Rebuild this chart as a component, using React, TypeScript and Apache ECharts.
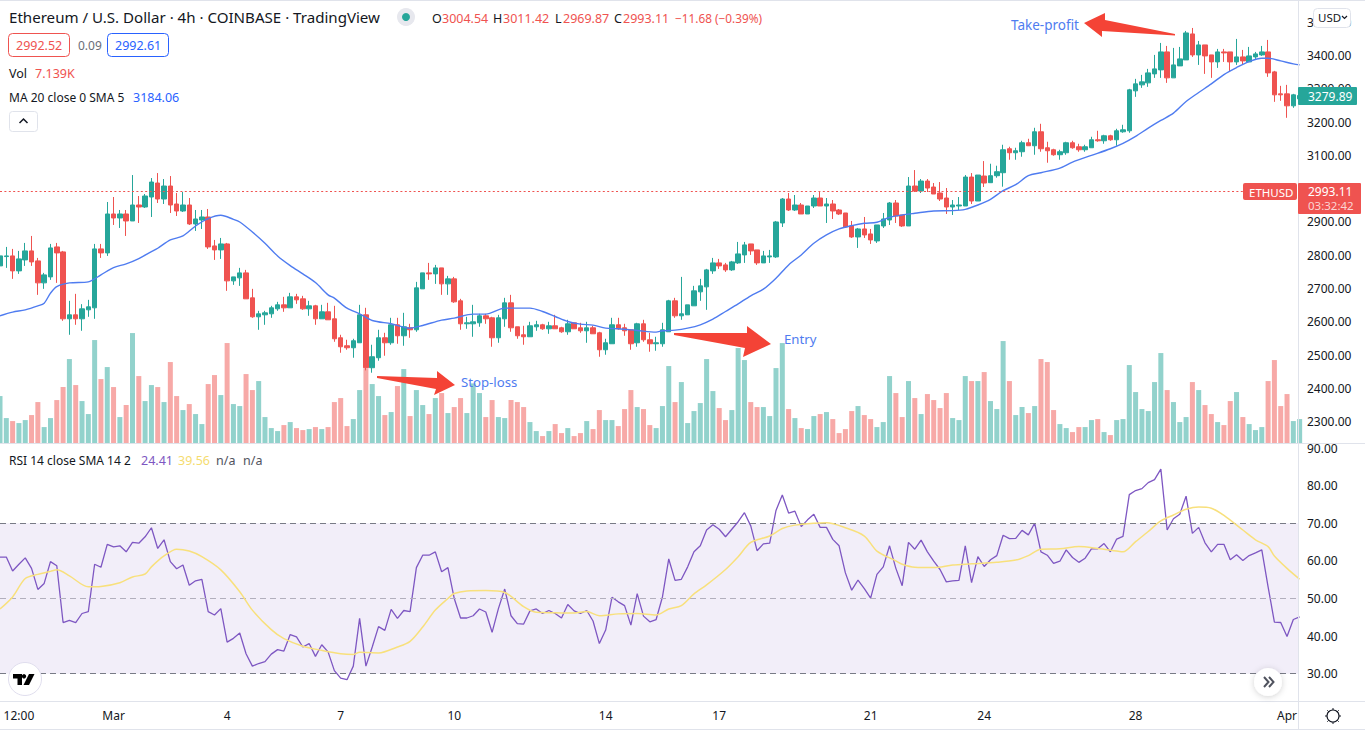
import React, { useEffect, useRef } from "react";
import * as echarts from "echarts";

// [open, close, low, high] per 4h bar
const candles: number[][] = [
[2768,2798,2768,2798],[2796,2798,2762,2825],[2798,2753,2729,2819],[2753,2789,2744,2813],[2786,2813,2768,2837],[2813,2780,2768,2858],[2783,2717,2681,2792],[2717,2741,2699,2747],[2735,2822,2726,2834],[2825,2807,2717,2837],
[2810,2609,2603,2813],[2609,2621,2561,2663],[2621,2609,2591,2684],[2609,2639,2573,2653],[2636,2645,2615,2666],[2642,2819,2609,2834],[2819,2807,2792,2834],[2807,2924,2798,2960],[2924,2912,2891,2975],[2912,2924,2882,2936],
[2924,2903,2858,2936],[2903,2951,2903,3041],[2951,2945,2897,2978],[2945,2978,2942,2984],[2975,3020,2915,3032],[3017,2969,2957,3047],[2969,3008,2954,3029],[3008,2951,2927,3038],[2954,2933,2918,2987],[2933,2951,2930,2990],
[2951,2894,2891,2972],[2894,2909,2873,2936],[2906,2915,2879,2936],[2915,2825,2819,2939],[2828,2816,2786,2846],[2816,2834,2789,2852],[2834,2723,2693,2837],[2723,2735,2711,2735],[2732,2747,2708,2762],[2747,2669,2669,2756],
[2672,2615,2612,2699],[2615,2624,2576,2633],[2621,2627,2591,2633],[2624,2642,2612,2648],[2639,2651,2633,2660],[2651,2642,2630,2675],[2642,2675,2642,2687],[2675,2666,2654,2684],[2669,2639,2636,2678],[2639,2648,2618,2663],
[2648,2609,2591,2651],[2609,2630,2609,2651],[2630,2606,2606,2657],[2609,2549,2540,2648],[2552,2525,2507,2561],[2528,2522,2516,2546],[2522,2543,2492,2549],[2537,2621,2537,2651],[2621,2462,2454,2642],[2462,2495,2447,2531],
[2492,2552,2483,2576],[2552,2537,2498,2567],[2537,2591,2531,2612],[2591,2558,2534,2612],[2558,2585,2528,2627],[2582,2576,2552,2594],[2576,2702,2570,2720],[2699,2747,2699,2747],[2747,2744,2726,2777],[2744,2762,2714,2771],
[2762,2714,2681,2762],[2714,2729,2681,2738],[2729,2660,2657,2735],[2663,2594,2576,2669],[2594,2597,2579,2615],[2594,2600,2555,2651],[2597,2618,2585,2624],[2618,2609,2594,2624],[2612,2552,2525,2615],[2552,2612,2537,2621],
[2609,2657,2585,2672],[2657,2582,2570,2681],[2585,2558,2549,2585],[2561,2555,2531,2588],[2555,2588,2555,2600],[2585,2591,2573,2603],[2591,2579,2576,2594],[2579,2588,2564,2600],[2588,2579,2579,2621],[2582,2570,2567,2585],
[2570,2594,2561,2606],[2597,2579,2579,2597],[2582,2573,2567,2597],[2573,2582,2537,2600],[2582,2564,2564,2588],[2567,2516,2495,2570],[2516,2537,2501,2549],[2534,2591,2534,2612],[2591,2579,2576,2612],[2582,2573,2558,2594],
[2576,2534,2516,2576],[2537,2594,2525,2597],[2594,2546,2540,2606],[2546,2534,2510,2567],[2534,2537,2513,2555],[2534,2576,2525,2597],[2570,2663,2570,2666],[2663,2618,2612,2672],[2618,2624,2606,2735],[2621,2651,2621,2651],
[2648,2693,2648,2708],[2690,2708,2663,2729],[2705,2756,2636,2759],[2753,2777,2744,2792],[2777,2768,2759,2789],[2771,2756,2750,2777],[2756,2780,2753,2783],[2777,2804,2774,2840],[2801,2831,2777,2840],[2834,2813,2801,2834],
[2816,2777,2771,2816],[2777,2798,2777,2813],[2795,2798,2777,2816],[2795,2900,2792,2903],[2897,2969,2885,2972],[2969,2936,2933,2987],[2936,2951,2933,2981],[2951,2924,2924,2957],[2924,2948,2924,2948],[2948,2972,2942,2981],
[2972,2948,2948,2990],[2948,2954,2897,2972],[2954,2933,2909,2966],[2936,2924,2921,2939],[2927,2885,2882,2927],[2888,2855,2852,2903],[2855,2879,2822,2882],[2879,2861,2852,2915],[2864,2846,2834,2879],[2843,2891,2837,2891],
[2888,2909,2882,2927],[2906,2957,2891,2960],[2957,2918,2897,2966],[2921,2888,2885,2921],[2888,3008,2888,3035],[3008,2993,2990,3056],[2993,3023,2987,3029],[3023,3002,2990,3029],[3005,2984,2984,3017],[2987,2969,2963,3020],
[2972,2945,2924,3002],[2945,2951,2921,2966],[2948,2951,2936,2975],[2948,3035,2948,3041],[3035,2963,2954,3047],[2963,3041,2963,3041],[3038,3017,3005,3083],[3018,3039,3018,3075],[3039,3051,3033,3069],[3048,3117,3006,3132],
[3120,3108,3087,3126],[3108,3114,3087,3123],[3111,3138,3096,3144],[3138,3129,3129,3150],[3129,3171,3102,3183],[3171,3120,3111,3195],[3123,3114,3078,3141],[3117,3102,3099,3120],[3102,3111,3087,3117],[3108,3138,3102,3141],
[3138,3123,3120,3144],[3126,3117,3111,3135],[3117,3126,3111,3132],[3123,3147,3123,3156],[3147,3144,3141,3174],[3144,3159,3135,3162],[3159,3147,3144,3162],[3147,3174,3129,3180],[3171,3177,3168,3192],[3174,3297,3168,3300],
[3294,3315,3276,3330],[3312,3321,3303,3342],[3318,3348,3306,3360],[3345,3360,3333,3402],[3357,3411,3333,3438],[3411,3333,3318,3429],[3333,3372,3333,3423],[3369,3390,3369,3426],[3387,3468,3387,3474],[3465,3402,3396,3483],
[3402,3432,3372,3444],[3432,3399,3345,3432],[3402,3381,3333,3402],[3381,3411,3363,3420],[3411,3408,3381,3420],[3411,3381,3351,3411],[3381,3396,3372,3450],[3396,3384,3372,3417],[3381,3399,3381,3426],[3396,3405,3390,3411],
[3402,3411,3399,3429],[3411,3348,3336,3447],[3351,3282,3261,3354],[3285,3282,3264,3309],[3285,3249,3213,3312],[3249,3282,3243,3285],[3270,3279.89,3262,3290],
];

const volumesK = [
14.2,7.6,6.7,6.1,7.0,8.5,12.4,4.9,7.6,13.0,16.9,25.3,17.5,12.7,8.8,31.0,19.3,22.9,16.9,7.9,11.5,33.1,20.2,12.7,17.5,16.9,12.4,24.4,14.2,10.0,11.8,8.8,5.8,17.8,20.5,14.5,30.1,11.8,11.2,20.8,16.0,18.7,7.9,4.6,3.7,5.5,6.4,4.6,4.0,4.3,4.9,4.3,4.9,
12.4,13.6,5.2,7.3,16.0,22.5,17.8,14.2,8.5,9.4,17.2,22.3,8.2,16.0,11.5,8.8,13.6,15.1,9.1,10.9,13.6,9.1,18.0,15.1,7.9,13.0,7.9,7.6,13.0,12.4,10.9,6.4,3.7,2.2,3.7,5.8,3.1,4.6,2.2,3.1,6.7,4.3,10.0,7.0,7.0,5.2,10.3,16.0,10.9,10.3,5.5,4.6,
11.2,23.2,12.4,18.4,6.1,9.7,12.1,25.3,15.7,10.6,7.0,10.0,28.6,25.0,12.4,10.9,10.9,8.2,22.6,30.1,10.3,7.6,4.6,4.3,8.2,8.8,9.4,7.3,3.1,4.3,9.7,11.2,8.5,7.3,4.9,6.4,20.2,15.1,7.9,18.7,13.6,8.8,14.8,13.0,10.6,15.1,7.6,7.0,20.2,18.7,18.7,21.4,
12.7,10.3,30.7,18.7,8.5,10.9,9.1,11.2,25.3,24.4,10.0,5.8,4.6,3.4,4.9,4.9,7.0,7.3,3.4,2.5,7.0,7.3,23.5,15.4,10.3,9.7,18.4,27.1,16.0,12.4,6.4,7.9,18.4,16.0,11.5,8.8,6.4,5.5,12.7,15.4,7.9,5.8,4.0,4.9,18.7,25.0,11.2,14.8,6.7,7.3,
];

const rsiValues = [
61.0,61.0,57.3,59.1,60.8,58.0,52.4,54.0,59.8,58.7,43.6,44.2,43.6,46.0,46.5,59.1,58.3,64.4,63.7,64.0,62.4,64.9,64.7,66.4,68.8,63.3,65.6,59.8,57.9,58.9,53.5,54.7,55.1,46.5,45.6,47.3,38.4,39.4,40.8,35.3,32.0,32.7,33.2,35.2,36.4,36.0,40.4,39.8,37.1,38.0,34.6,37.7,35.8,30.8,28.8,28.4,32.0,44.7,32.0,37.1,42.5,41.5,47.1,44.7,46.8,46.5,58.2,61.5,61.5,62.4,57.1,58.2,
50.0,44.8,44.8,45.4,47.2,46.4,41.0,47.3,52.5,45.4,43.3,43.2,46.7,47.2,46.0,46.8,46.0,44.8,48.4,46.7,46.0,46.8,44.0,38.0,41.6,50.3,49.1,48.1,42.9,51.3,45.3,43.8,44.4,50.4,60.5,54.8,55.1,58.4,62.4,64.0,68.2,69.6,68.4,66.4,68.4,70.4,72.8,69.3,62.7,64.5,64.7,73.4,77.5,72.7,73.2,69.1,70.9,72.4,68.9,68.9,65.7,64.0,56.8,52.2,54.9,52.6,50.1,56.4,58.4,64.0,58.0,
53.4,64.9,63.1,65.5,62.4,59.9,57.7,54.4,54.7,54.8,64.0,54.2,61.1,58.5,60.3,61.4,66.8,65.9,66.0,68.1,66.9,70.0,62.4,61.5,59.3,59.9,62.9,60.9,59.6,60.7,63.2,63.2,64.6,62.4,65.8,66.5,77.6,78.7,79.2,80.8,81.6,84.4,68.2,71.2,72.4,77.2,67.3,68.9,64.8,62.4,64.4,64.4,60.3,61.6,60.1,61.4,62.1,62.9,53.1,43.7,43.6,39.9,44.4,45.1,
];

// [bar index, value] samples
const rsiSmaPoints: number[][] = [
[0,47.2],[2,50.4],[4,55.3],[6,56.4],[8,57.2],[9,57.6],[11,56.0],[14,53.1],[16,53.2],[19,54.2],[21,55.7],[23,56.5],[24,58.4],[26,61.3],[28,63.1],[30,62.6],[32,61.1],[35,57.6],[38,51.8],[40,46.9],[43,41.7],[45,39.3],[48,37.3],[51,36.2],[54,35.3],[56,35.1],[57,35.7],[60,35.5],[63,37.1],[65,38.6],[67,42.4],[69,46.9],[71,50.0],
[72,51.3],[74,52.0],[77,52.1],[80,51.6],[83,47.8],[85,46.3],[88,46.2],[91,46.1],[93,46.5],[95,45.4],[98,45.9],[101,46.0],[104,45.6],[106,47.2],[108,48.1],[110,51.2],[112,53.6],[115,57.7],[117,61.1],[119,64.9],[122,66.6],[124,68.6],[126,69.5],[129,70.0],[131,70.1],[134,68.8],[137,66.6],[139,62.6],[142,60.0],
[143,59.1],[145,58.3],[148,58.2],[151,58.9],[154,59.2],[158,59.6],[161,60.2],[163,61.4],[165,63.1],[168,63.2],[171,63.8],[174,63.3],[177,62.6],[178,62.4],[180,65.1],[182,67.8],[184,70.6],[186,72.2],[188,73.7],[190,74.3],[192,74.0],[194,72.1],[197,68.2],[199,65.6],[201,63.8],[202,61.3],[204,58.0],[206,55.1],
];

const maPoints: number[][] = [
[0,2618],[2,2629],[4,2636],[6,2648],[7,2656],[8,2686],[9,2706],[11,2717],[14,2720],[16,2741],[18,2763],[20,2774],[22,2790],[24,2811],[25,2821],[27,2846],[29,2858],[31,2888],[33,2910],[35,2920],[37,2908],[38,2900],[40,2870],[42,2836],[44,2798],[46,2769],[48,2744],[50,2718],[52,2681],
[53,2671],[55,2641],[57,2624],[59,2604],[62,2594],[65,2581],[67,2589],[70,2605],[72,2611],[75,2623],[77,2623],[80,2641],[82,2641],[84,2641],[86,2631],[88,2616],[90,2601],[92,2593],[94,2590],[96,2581],[98,2579],[101,2574],[104,2569],
[105,2573],[107,2575],[109,2581],[111,2591],[113,2608],[115,2631],[117,2654],[119,2678],[121,2698],[123,2731],[125,2771],[127,2801],[129,2836],[131,2861],[133,2879],[135,2889],[137,2896],[139,2899],[141,2914],[143,2921],[145,2926],[148,2933],[151,2934],[153,2938],[155,2951],[157,2968],
[159,2994],[161,3012],[163,3039],[165,3048],[168,3062],[170,3080],[173,3100],[176,3120],[178,3136],[180,3157],[182,3182],[184,3205],[186,3227],[188,3262],[190,3289],[192,3315],[194,3343],[196,3364],[198,3382],[200,3392],[201,3392],[203,3384],[205,3375],[206,3372],
];

const priceTicks = [2300,2400,2500,2600,2700,2800,2900,3100,3200,3300,3400,3500];
const rsiTicks = [30,40,50,60,70,80,90];
const timeTicks: Record<number, string> = { 3:"12:00", 18:"Mar", 36:"4", 54:"7", 72:"10", 96:"14", 114:"17", 138:"21", 156:"24", 180:"28", 204:"Apr" };
const currentPrice = 2991.6;

const FONT = "'Noto Sans', sans-serif";
const UP = "#26a69a", DOWN = "#ef5350", INK = "#131722", BLUE = "#4f7cf0", LINE = "#e0e3eb", ARROW = "#f44336";

const txt = (x: number, y: number, text: string, fill = INK, fontSize = 12, extra: any = {}) => ({
  type: "text", x, y, z: 120,
  style: { text, fill, fontSize, fontFamily: FONT, textVerticalAlign: "middle", ...extra },
});
const box = (x: number, y: number, width: number, height: number, fill: string, stroke?: string, r = 2) => ({
  type: "rect", z: 110, shape: { x, y, width, height, r }, style: { fill, stroke, lineWidth: 1 },
});
const poly = (points: number[][]) => ({ type: "polygon", z: 105, shape: { points }, style: { fill: ARROW } });
const rule = (x1: number, y1: number, x2: number, y2: number) => ({
  type: "line", z: 100, shape: { x1, y1, x2, y2 }, style: { stroke: LINE, lineWidth: 1 },
});
const stroke = (points: number[][], color: string, lineWidth = 1.5) => ({
  type: "polyline", z: 125, shape: { points }, style: { stroke: color, fill: "none", lineWidth },
});

const overlays: any[] = [
  // frame
  rule(0, 0.5, 1365, 0.5), rule(1298.5, 0, 1298.5, 729), rule(0, 443.5, 1365, 443.5), rule(0, 701.5, 1365, 701.5), rule(0, 729.5, 1365, 729.5),
  // arrows
  poly([[377,376],[437,378],[437,371],[455,385],[434,395],[436,389],[377,378]]),
  poly([[674,333],[747,333],[747,326],[771,344],[743,357],[745,348],[674,335]]),
  poly([[1084,23],[1105,13],[1105,20],[1175,34],[1175,35.5],[1102,31],[1102,37]]),
  txt(461, 382, "Stop-loss", BLUE, 13.2),
  txt(784, 339, "Entry", BLUE, 13.2),
  txt(1011, 25, "Take-profit", BLUE, 13.5),
  // header
  txt(9, 17, "Ethereum / U.S. Dollar · 4h · COINBASE · TradingView", INK, 15.1),
  { type: "circle", z: 110, shape: { cx: 406, cy: 17, r: 9 }, style: { fill: "#e7e8ee" } },
  { type: "circle", z: 111, shape: { cx: 406, cy: 17, r: 4 }, style: { fill: UP } },
  txt(432, 18, "O", INK, 12.5), txt(442, 18, "3004.54", DOWN, 12.5),
  txt(493, 18, "H", INK, 12.5), txt(503, 18, "3011.42", DOWN, 12.5),
  txt(555, 18, "L", INK, 12.5), txt(563, 18, "2969.87", DOWN, 12.5),
  txt(614, 18, "C", INK, 12.5), txt(623, 18, "2993.11", DOWN, 12.5),
  txt(675, 18, "−11.68 (−0.39%)", DOWN, 11.8),
  box(8.5, 33.5, 61, 23, "#fff", DOWN, 4), txt(16, 45, "2992.52", DOWN, 12.5),
  txt(78, 45, "0.09", "#6a6d78", 12),
  box(107.5, 33.5, 61, 23, "#fff", "#2962ff", 4), txt(115, 45, "2992.61", "#2962ff", 12.5),
  txt(9, 73, "Vol", INK, 12.5), txt(35, 73, "7.139K", DOWN, 12.5),
  txt(9, 97, "MA 20 close 0 SMA 5", INK, 12), txt(133, 97, "3184.06", "#2962ff", 12.5),
  box(9.5, 111.5, 28, 20, "#fff", LINE, 3), stroke([[19.5,123],[23.5,119],[27.5,123]], INK),
  // RSI legend
  txt(9, 460, "RSI 14 close SMA 14 2", INK, 12),
  txt(141, 460, "24.41", "#7e57c2", 12.5), txt(178, 460, "39.56", "#f5dc6f", 12.5), txt(216, 460, "n/a", "#50535e", 12.5), txt(243, 460, "n/a", "#50535e", 12.5),
  // price tags
  box(1313.5, 8.5, 37, 19, "#fff", LINE, 4), txt(1318, 17, "USD", INK, 11.5), stroke([[1342,16],[1344.5,18.5],[1347,16]], INK, 1.2),
  box(1298, 87, 59, 18, UP, undefined, 1), txt(1308, 96, "3279.89", "#fff", 12),
  box(1243, 183, 54, 17, DOWN, undefined, 2), txt(1249, 192, "ETHUSD", "#fff", 11.5),
  box(1298, 183, 63, 31, DOWN, undefined, 1), txt(1308, 191.5, "2993.11", "#fff", 12), txt(1308, 205.5, "03:32:42", "#fbd5d4", 11.5),
  // logo
  { type: "circle", z: 110, shape: { cx: 25, cy: 679, r: 16.5 }, style: { fill: "#fff", stroke: "#e0deee", lineWidth: 1 } },
  { type: "polygon", z: 111, shape: { points: [[13,674],[22,674],[22,685],[17.5,685],[17.5,678.5],[13,678.5]] }, style: { fill: "#000" } },
  { type: "circle", z: 111, shape: { cx: 24, cy: 676.3, r: 2.2 }, style: { fill: "#000" } },
  { type: "polygon", z: 111, shape: { points: [[29,674],[34.5,674],[29,685],[23.5,685]] }, style: { fill: "#000" } },
  // scroll button
  { type: "circle", z: 110, shape: { cx: 1268, cy: 682, r: 14 }, style: { fill: "#fff", shadowBlur: 6, shadowColor: "rgba(0,0,0,0.18)", shadowOffsetY: 1 } },
  stroke([[1264,677],[1268.5,682],[1264,687]], "#50535e", 2), stroke([[1269,677],[1273.5,682],[1269,687]], "#50535e", 2),
  // sun icon
  { type: "circle", z: 110, shape: { cx: 1333, cy: 716, r: 6 }, style: { fill: "#fff", stroke: INK, lineWidth: 1.1 } },
  ...[[1333,708,1333,710],[1333,722,1333,724],[1325,716,1327,716],[1339,716,1341,716],[1327.3,710.3,1328.7,711.7],[1337.3,720.3,1338.7,721.7],[1327.3,721.7,1328.7,720.3],[1337.3,711.7,1338.7,710.3]].map(([x1,y1,x2,y2]) => ({
    type: "line", z: 111, shape: { x1, y1, x2, y2 }, style: { stroke: INK, lineWidth: 1 },
  })),
];

const axisLabelBase = { color: INK, fontFamily: FONT, fontSize: 12 };

const option: any = {
  animation: false,
  backgroundColor: "#fff",
  grid: [
    { left: 0, top: 0, width: 1298, height: 443.4 },
    { left: 0, top: 444, width: 1298, height: 257.5 },
  ],
  xAxis: [
    { gridIndex: 0, type: "value", min: 0, max: 205.74, show: false, splitLine: { show: false } },
    {
      gridIndex: 1, type: "value", min: 0, max: 205.74, splitLine: { show: false },
      axisLine: { show: false }, axisTick: { show: false },
      axisLabel: { ...axisLabelBase, margin: 8, customValues: Object.keys(timeTicks).map(Number), formatter: (v: number) => timeTicks[v] ?? "" },
    },
  ],
  yAxis: [
    {
      gridIndex: 0, type: "value", position: "right", min: 2234.6, max: 3567, splitLine: { show: false },
      axisLine: { show: false }, axisTick: { show: false },
      axisLabel: { ...axisLabelBase, margin: 9, customValues: priceTicks, formatter: (v: number) => v.toFixed(2) },
    },
    { gridIndex: 0, type: "value", position: "left", min: 0, max: 133, show: false, splitLine: { show: false } },
    {
      gridIndex: 1, type: "value", position: "right", min: 22.6, max: 91.07, splitLine: { show: false },
      axisLine: { show: false }, axisTick: { show: false },
      axisLabel: { ...axisLabelBase, margin: 9, customValues: rsiTicks, formatter: (v: number) => v.toFixed(2) },
    },
  ],
  series: [
    {
      type: "bar", name: "Vol", xAxisIndex: 0, yAxisIndex: 1, barWidth: 5, z: 1,
      data: volumesK.map((v, i) => ({
        value: [i, v],
        itemStyle: { color: candles[i][1] >= candles[i][0] ? "rgba(38,166,154,0.5)" : "rgba(239,83,80,0.5)" },
      })),
    },
    {
      type: "candlestick", name: "ETHUSD", xAxisIndex: 0, yAxisIndex: 0, barWidth: 5, z: 3,
      encode: { x: 0, y: [1, 2, 3, 4] },
      itemStyle: { color: UP, color0: DOWN, borderColor: UP, borderColor0: DOWN, borderWidth: 1 },
      data: candles.map((c, i) => [i, ...c]),
    },
    {
      type: "line", name: "MA", xAxisIndex: 0, yAxisIndex: 0, z: 4, smooth: 0.3, symbol: "none",
      lineStyle: { color: "#4f7cf0", width: 1.4 }, data: maPoints,
      markLine: {
        silent: true, symbol: "none", label: { show: false },
        data: [{ yAxis: currentPrice, lineStyle: { color: DOWN, type: [2, 2.4], width: 1 } }],
      },
    },
    {
      type: "line", name: "RSI", xAxisIndex: 1, yAxisIndex: 2, z: 4, symbol: "none",
      lineStyle: { color: "#7e57c2", width: 1.3 }, data: rsiValues.map((v, i) => [i, v]),
      markArea: { silent: true, itemStyle: { color: "rgba(126,87,194,0.1)" }, data: [[{ yAxis: 70 }, { yAxis: 30 }]] },
      markLine: {
        silent: true, symbol: "none", label: { show: false },
        data: [
          { yAxis: 70, lineStyle: { color: "#787b86", type: [6, 4], width: 1 } },
          { yAxis: 50, lineStyle: { color: "#b2afbd", type: [6, 4], width: 1 } },
          { yAxis: 30, lineStyle: { color: "#787b86", type: [6, 4], width: 1 } },
        ],
      },
    },
    {
      type: "line", name: "RSI SMA", xAxisIndex: 1, yAxisIndex: 2, z: 5, smooth: 0.3, symbol: "none",
      lineStyle: { color: "#f8e07c", width: 1.5 }, data: rsiSmaPoints,
    },
  ],
  graphic: { z: 100, elements: overlays },
};

export default function App() {
  const ref = useRef<HTMLDivElement>(null);
  useEffect(() => {
    const chart = echarts.init(ref.current!, undefined, { renderer: "svg" });
    chart.setOption(option);
    return () => chart.dispose();
  }, []);
  return <div ref={ref} style={{ position: "absolute", left: 0, top: 0, width: 1365, height: 738 }} />;
}
